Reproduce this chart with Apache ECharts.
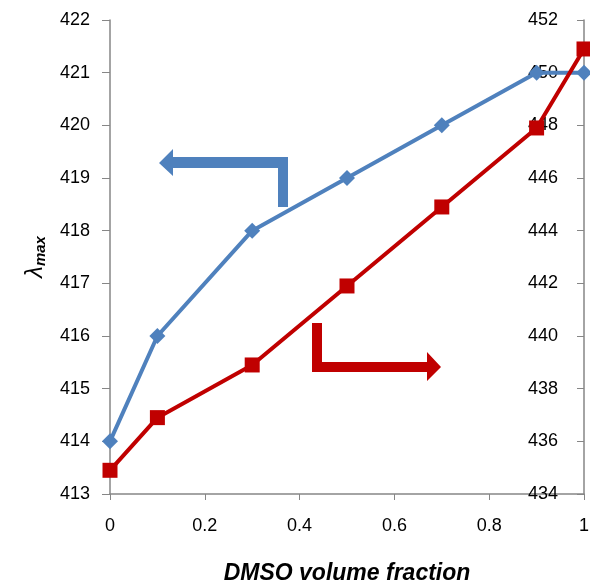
<!DOCTYPE html>
<html>
<head>
<meta charset="utf-8">
<script src="https://cdn.jsdelivr.net/npm/echarts@6/dist/echarts.min.js"></script>
<style>
  html, body { margin: 0; padding: 0; background: #fff; }
  #chart { width: 590px; height: 583px; }
</style>
</head>
<body>
<div id="chart"></div>
<script>
const chart = echarts.init(document.getElementById('chart'));

// DMSO volume fraction
const fractions = [0, 0.1, 0.3, 0.5, 0.7, 0.9, 1];
// blue, left axis
const lambdaLeft = [414, 416, 418, 419, 420, 421, 421];
// red, right axis
const lambdaRight = [434.9, 436.9, 438.9, 441.9, 444.9, 447.9, 450.9];

const blue = '#4F81BD';
const red = '#C00000';
const axisGray = '#868686';
const font = 'Liberation Sans, Arial, sans-serif';

const option = {
  backgroundColor: '#fff',
  textStyle: { fontFamily: font },
  grid: { left: 110, right: 6, top: 20, bottom: 89, outerBoundsMode: 'none', containLabel: false },
  xAxis: {
    type: 'value',
    min: 0, max: 1, interval: 0.2,
    name: 'DMSO volume fraction',
    nameLocation: 'middle',
    nameGap: 68,
    nameTextStyle: { fontSize: 23, fontWeight: 'bold', fontStyle: 'italic', color: '#000', fontFamily: font },
    axisLine: { lineStyle: { color: axisGray, width: 1.5 } },
    axisTick: { length: 6, lineStyle: { color: axisGray } },
    axisLabel: { fontSize: 18, color: '#000', margin: 23 },
    splitLine: { show: false }
  },
  yAxis: [{
    type: 'value',
    min: 413, max: 422, interval: 1,
    position: 'left',
    name: '{a|λ}{b|max}',
    nameLocation: 'middle',
    nameGap: 62,
    nameRotate: 90,
    nameTextStyle: {
      rich: {
        a: { fontSize: 24, fontStyle: 'italic', color: '#000', fontFamily: font },
        b: { fontSize: 15, fontStyle: 'italic', fontWeight: 'bold', color: '#000', fontFamily: font, padding: [10, 0, 0, 0] }
      }
    },
    axisLine: { show: true, lineStyle: { color: axisGray, width: 1.5 } },
    axisTick: { show: true, length: 8, lineStyle: { color: axisGray } },
    axisLabel: { fontSize: 18, color: '#000', margin: 20 },
    splitLine: { show: false }
  }, {
    type: 'value',
    min: 434, max: 452, interval: 2,
    position: 'right',
    axisLine: { show: true, lineStyle: { color: axisGray, width: 1.5 } },
    axisTick: { show: true, inside: true, length: 7, lineStyle: { color: axisGray } },
    axisLabel: { inside: true, fontSize: 18, color: '#000', margin: 26 },
    splitLine: { show: false }
  }],
  series: [{
    type: 'line',
    yAxisIndex: 0,
    data: fractions.map((x, i) => [x, lambdaLeft[i]]),
    symbol: 'diamond',
    symbolSize: 16,
    lineStyle: { color: blue, width: 4 },
    itemStyle: { color: blue },
    z: 3
  }, {
    type: 'line',
    yAxisIndex: 1,
    data: fractions.map((x, i) => [x, lambdaRight[i]]),
    symbol: 'rect',
    symbolSize: 15,
    lineStyle: { color: red, width: 4 },
    itemStyle: { color: red },
    z: 4
  }],
  graphic: [{
    // blue arrow: points to left axis
    type: 'polygon',
    shape: {
      points: [[159, 163], [173, 149], [173, 157], [288, 157], [288, 207],
               [278, 207], [278, 168], [173, 168], [173, 176]]
    },
    style: { fill: blue }
  }, {
    // red arrow: points to right axis
    type: 'polygon',
    shape: {
      points: [[312, 323], [322, 323], [322, 362], [427, 362], [427, 352],
               [441, 367], [427, 381], [427, 372], [312, 372]]
    },
    style: { fill: red }
  }]
};

chart.setOption(option);
</script>
</body>
</html>
